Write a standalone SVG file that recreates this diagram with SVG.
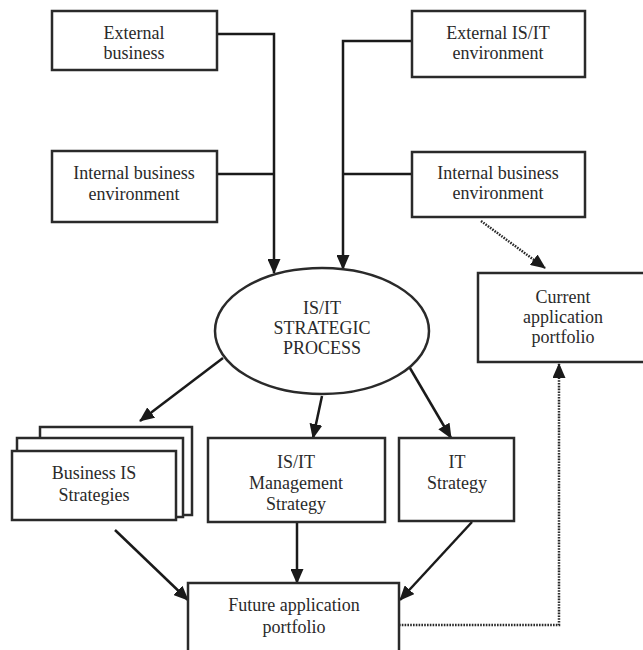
<svg xmlns="http://www.w3.org/2000/svg" width="643" height="650" viewBox="0 0 643 650">
<style>
.box{fill:#fff;stroke:#2a2a2a;stroke-width:2.5}
.t{font-family:"Liberation Serif","Times New Roman",serif;font-size:18px;fill:#2a2a2a;text-anchor:middle}
.c{fill:none;stroke:#1a1a1a;stroke-width:2.5}
.d{fill:none;stroke:#2a2a2a;stroke-width:2.5;stroke-dasharray:1.6 1.2}
</style>
<defs>
<marker id="ah" markerUnits="userSpaceOnUse" markerWidth="15" markerHeight="13" refX="14" refY="6.5" orient="auto">
<path d="M0,0 L15,6.5 L0,13 z" fill="#1a1a1a"/>
</marker>
</defs>
<rect width="643" height="650" fill="#fff"/>
<g id="connectors">
<path class="c" d="M217,34 H274 V273" marker-end="url(#ah)"/>
<path class="c" d="M217,174 H274"/>
<path class="c" d="M412,41 H343 V269" marker-end="url(#ah)"/>
<path class="c" d="M412,174 H343"/>
<path class="d" d="M481,221 L545,268" marker-end="url(#ah)"/>
<path class="c" d="M223,358 L140,421" marker-end="url(#ah)"/>
<path class="c" d="M322,396 L313,438" marker-end="url(#ah)"/>
<path class="c" d="M407,363 L451,438" marker-end="url(#ah)"/>
<path class="c" d="M115,530 L188,600" marker-end="url(#ah)"/>
<path class="c" d="M297,522 V583" marker-end="url(#ah)"/>
<path class="c" d="M472,522 L400,600" marker-end="url(#ah)"/>
<path class="d" d="M399,625 H559 V364" marker-end="url(#ah)"/>
</g>
<g id="external-business">
<rect class="box" x="52" y="11" width="165" height="59"/>
<text class="t" x="134" y="39">External</text>
<text class="t" x="134" y="59">business</text>
</g>
<g id="internal-business-left">
<rect class="box" x="52" y="151" width="165" height="71"/>
<text class="t" x="134" y="179">Internal business</text>
<text class="t" x="134" y="200">environment</text>
</g>
<g id="external-isit">
<rect class="box" x="412" y="11" width="173" height="66"/>
<text class="t" x="498" y="39">External IS/IT</text>
<text class="t" x="498" y="59">environment</text>
</g>
<g id="internal-business-right">
<rect class="box" x="412" y="152" width="173" height="65"/>
<text class="t" x="498" y="179">Internal business</text>
<text class="t" x="498" y="199">environment</text>
</g>
<g id="strategic-process">
<ellipse class="box" cx="322" cy="331" rx="107" ry="63"/>
<text class="t" x="322" y="314">IS/IT</text>
<text class="t" x="322" y="334">STRATEGIC</text>
<text class="t" x="322" y="354">PROCESS</text>
</g>
<g id="current-portfolio">
<rect class="box" x="478" y="273" width="170" height="89"/>
<text class="t" x="563" y="303">Current</text>
<text class="t" x="563" y="323">application</text>
<text class="t" x="563" y="343">portfolio</text>
</g>
<g id="business-is">
<rect class="box" x="40" y="427" width="152" height="88"/>
<rect class="box" x="17" y="438" width="166" height="79"/>
<rect class="box" x="12" y="451" width="164" height="69"/>
<text class="t" x="94" y="479">Business IS</text>
<text class="t" x="94" y="501">Strategies</text>
</g>
<g id="management-strategy">
<rect class="box" x="208" y="438" width="177" height="84"/>
<text class="t" x="296" y="468">IS/IT</text>
<text class="t" x="296" y="489">Management</text>
<text class="t" x="296" y="510">Strategy</text>
</g>
<g id="it-strategy">
<rect class="box" x="399" y="438" width="115" height="83"/>
<text class="t" x="457" y="468">IT</text>
<text class="t" x="457" y="489">Strategy</text>
</g>
<g id="future-portfolio">
<rect class="box" x="188" y="583" width="211" height="80"/>
<text class="t" x="294" y="611">Future application</text>
<text class="t" x="294" y="633">portfolio</text>
</g>
</svg>
